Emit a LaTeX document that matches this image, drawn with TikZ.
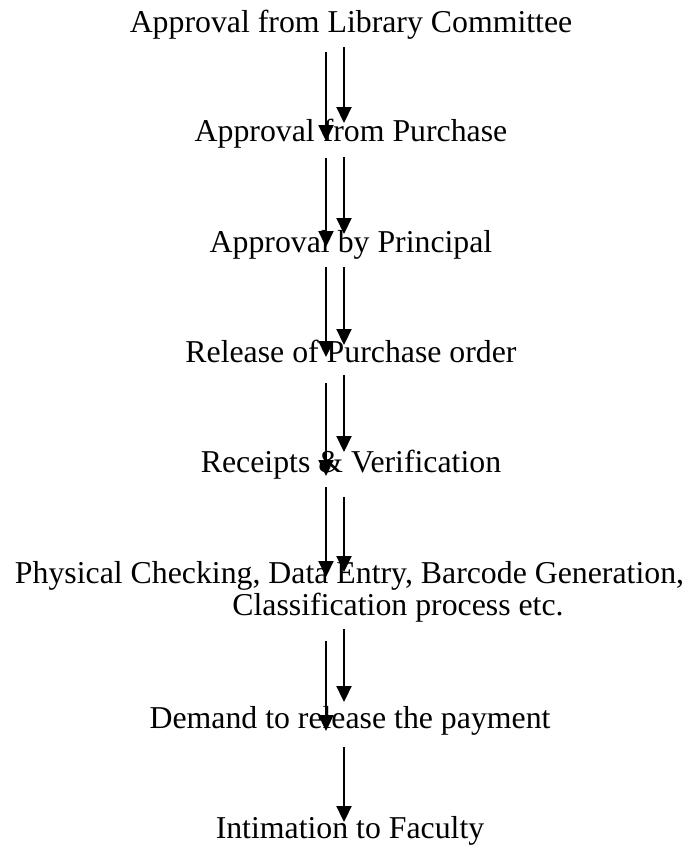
\documentclass[tikz,border=0pt]{standalone}
\usepackage{fontspec}
\setmainfont{Liberation Serif}
\usetikzlibrary{arrows.meta}
\begin{document}
\begin{tikzpicture}[x=1pt,y=-1pt,
  lbl/.style={anchor=base,inner sep=0pt,font=\fontsize{31.8}{32}\selectfont},
  flow/.style={line width=2.2pt,-{Triangle[width=15pt,length=16pt]}}]
\useasboundingbox (0,0) rectangle (690,846);
\node[lbl] (t1) at (351,32) {Approval from Library Committee};
\node[lbl] (t2) at (351,141) {Approval from Purchase};
\node[lbl] (t3) at (351,252) {Approval by Principal};
\node[lbl] (t4) at (351,362) {Release of Purchase order};
\node[lbl] (t5) at (351,472) {Receipts \& Verification};
\node[lbl] (t6) at (349.5,583) {Physical Checking, Data Entry, Barcode Generation,};
\node[lbl] (t6b) at (398,615) {Classification process etc.};
\node[lbl] (t7) at (350,728) {Demand to release the payment};
\node[lbl] (t8) at (350,838) {Intimation to Faculty};
% arrow end points
\coordinate (a1l) at (326,52);  \coordinate (b1l) at (326,141);
\coordinate (a1r) at (344,47);  \coordinate (b1r) at (344,123);
\coordinate (a2l) at (326,158); \coordinate (b2l) at (326,247);
\coordinate (a2r) at (344,157); \coordinate (b2r) at (344,234);
\coordinate (a3l) at (326,267); \coordinate (b3l) at (326,357);
\coordinate (a3r) at (344,267); \coordinate (b3r) at (344,345);
\coordinate (a4l) at (326,383); \coordinate (b4l) at (326,476);
\coordinate (a4r) at (344,375); \coordinate (b4r) at (344,452);
\coordinate (a5l) at (326,487); \coordinate (b5l) at (326,577);
\coordinate (a5r) at (344,497); \coordinate (b5r) at (344,572);
\coordinate (a6l) at (326,641); \coordinate (b6l) at (326,731);
\coordinate (a6r) at (344,629); \coordinate (b6r) at (344,702);
\coordinate (a7r) at (344,747); \coordinate (b7r) at (344,822);
\foreach \i in {1,...,6}{
  \draw[flow] (a\i l) -- (b\i l);
  \draw[flow] (a\i r) -- (b\i r);
}
\draw[flow] (a7r) -- (b7r);
\end{tikzpicture}
\end{document}
